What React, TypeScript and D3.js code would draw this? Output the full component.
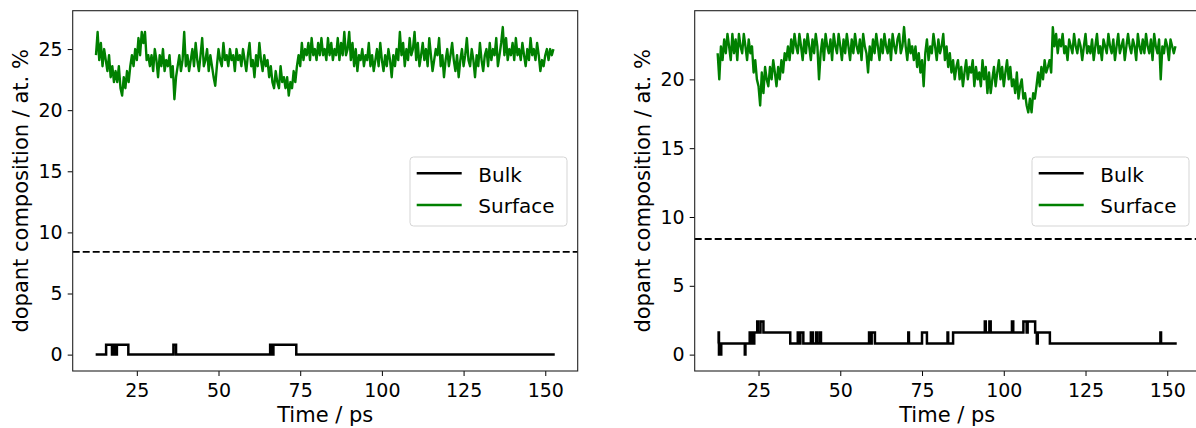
import React, { useEffect, useRef } from 'react';
import * as d3 from 'd3';

// Surface traces are sampled every 0.5 ps starting at 12.5 ps
const surfaceStart = 12.5;
const surfaceStep = 0.5;

// Left panel, surface dopant composition (at. %)
const leftSurface = [
  24.5, 26.4, 24.1, 25.5, 23.6, 25.0, 24.1, 23.2, 24.5, 22.7, 23.6, 22.3, 23.2, 22.3, 23.6, 21.8, 21.2, 22.7, 21.8, 23.2,
  22.3, 23.6, 24.5, 23.6, 25.0, 24.1, 25.9, 24.5, 26.4, 25.5, 26.4, 24.1, 24.5, 23.6, 24.5, 23.2, 25.0, 24.1, 22.7, 24.5,
  23.6, 25.0, 23.2, 24.1, 23.6, 24.5, 22.7, 23.6, 20.9, 22.7, 23.6, 24.5, 23.2, 24.1, 26.4, 23.6, 24.5, 23.2, 24.1, 25.0,
  23.6, 25.5, 24.1, 23.2, 24.5, 25.9, 23.6, 24.1, 25.0, 23.2, 24.5, 23.6, 22.7, 22.0, 23.6, 25.0, 24.1, 23.6, 25.5, 24.1,
  24.5, 23.6, 25.0, 24.1, 24.5, 23.2, 25.0, 24.1, 24.5, 23.6, 25.0, 24.1, 23.2, 24.5, 25.5, 23.6, 24.1, 22.7, 24.5, 23.6,
  25.5, 24.1, 23.2, 24.5, 23.6, 24.1, 22.7, 23.6, 22.3, 21.8, 23.2, 22.3, 21.8, 23.6, 22.3, 22.7, 21.8, 22.7, 21.2, 22.3,
  21.8, 23.2, 22.3, 23.6, 24.5, 23.6, 25.5, 24.1, 25.0, 24.5, 25.5, 24.1, 25.9, 24.5, 25.0, 24.1, 25.5, 24.5, 25.9, 24.5,
  25.0, 24.1, 25.9, 24.5, 25.5, 24.1, 25.0, 24.5, 25.9, 24.1, 25.5, 24.5, 26.4, 24.5, 25.0, 26.4, 24.1, 25.5, 23.6, 25.0,
  23.2, 24.5, 24.1, 25.0, 23.6, 24.5, 24.1, 25.5, 23.6, 24.5, 23.2, 24.1, 25.0, 23.6, 25.5, 24.1, 23.2, 24.5, 23.6, 25.0,
  24.1, 22.7, 24.5, 23.6, 25.0, 24.1, 26.4, 24.5, 25.5, 23.6, 25.0, 24.1, 25.9, 24.5, 25.0, 26.4, 24.1, 25.5, 23.6, 24.5,
  25.5, 24.1, 25.0, 23.6, 25.9, 24.5, 23.2, 24.1, 25.0, 24.5, 25.9, 23.6, 24.5, 22.7, 24.1, 25.0, 23.6, 24.5, 25.5, 24.1,
  23.2, 24.5, 22.7, 24.1, 25.0, 23.6, 24.5, 25.9, 24.1, 23.6, 25.0, 24.1, 22.7, 24.5, 23.6, 25.5, 24.1, 23.2, 24.5, 25.0,
  23.6, 25.5, 24.1, 25.0, 24.5, 25.9, 23.6, 24.5, 25.5, 26.8, 24.5, 25.9, 24.1, 25.0, 24.5, 25.5, 24.1, 25.9, 24.5, 25.0,
  24.1, 25.5, 24.5, 23.6, 25.0, 24.1, 25.9, 24.5, 25.0, 24.1, 25.5, 24.5, 23.2, 24.1, 23.6, 24.5, 25.0, 24.1, 25.0, 24.5, 25.0,
];

// Right panel, surface dopant composition (at. %)
const rightSurface = [
  21.9, 20.0, 22.4, 21.4, 22.9, 21.9, 23.3, 22.4, 21.4, 23.3, 21.9, 22.9, 21.4, 23.3, 22.4, 21.9, 23.3, 22.4, 21.4, 22.9,
  21.9, 22.4, 20.5, 21.4, 20.0, 19.5, 18.1, 20.5, 19.0, 20.9, 20.0, 19.5, 20.9, 20.0, 21.4, 20.5, 19.5, 20.9, 20.0, 21.4,
  20.5, 21.9, 21.4, 22.4, 21.4, 22.9, 21.9, 23.3, 22.4, 21.9, 23.3, 22.4, 21.4, 22.9, 21.9, 23.3, 22.4, 21.4, 22.9, 21.9,
  23.3, 22.4, 20.0, 21.9, 22.9, 21.4, 23.3, 22.4, 21.9, 22.9, 21.4, 23.3, 22.4, 21.9, 23.3, 22.4, 21.4, 22.9, 21.9, 23.3,
  22.4, 21.4, 22.9, 21.9, 23.3, 22.4, 21.9, 22.9, 21.4, 23.3, 22.4, 21.9, 20.5, 22.4, 21.4, 22.9, 21.9, 23.3, 22.4, 21.4,
  22.9, 21.9, 23.3, 22.4, 21.9, 22.9, 21.4, 23.3, 22.4, 21.9, 22.9, 23.3, 21.9, 22.4, 23.8, 22.4, 21.4, 22.9, 21.9, 22.4,
  21.4, 22.4, 20.9, 21.9, 20.5, 21.4, 19.5, 21.9, 22.9, 21.4, 22.4, 21.9, 23.3, 22.4, 21.4, 22.9, 21.9, 22.4, 23.3, 21.4,
  22.4, 20.9, 21.9, 20.5, 21.4, 20.0, 20.9, 21.4, 20.0, 20.9, 19.5, 20.5, 21.4, 20.0, 20.9, 20.5, 21.4, 19.5, 20.9, 20.0,
  20.5, 19.5, 21.4, 20.0, 20.9, 19.0, 20.5, 19.0, 20.0, 20.9, 19.5, 20.5, 21.4, 20.0, 20.9, 19.5, 20.5, 21.4, 20.0, 20.9,
  19.5, 20.0, 19.0, 20.5, 18.6, 19.5, 20.0, 18.6, 19.0, 18.1, 17.6, 18.6, 17.6, 19.0, 18.6, 19.5, 20.5, 19.5, 20.9, 20.0,
  21.4, 20.5, 20.9, 21.4, 20.5, 23.8, 22.4, 23.3, 21.9, 22.9, 22.4, 23.3, 21.9, 22.4, 21.4, 22.9, 22.4, 21.9, 23.3, 22.4,
  21.9, 22.9, 22.4, 21.4, 22.4, 23.3, 21.9, 22.4, 21.9, 22.9, 21.4, 22.4, 23.3, 21.9, 22.4, 21.4, 22.9, 22.4, 21.9, 23.3,
  22.4, 21.9, 22.9, 21.4, 22.4, 23.3, 21.9, 22.4, 22.9, 21.4, 22.4, 23.3, 22.4, 21.9, 22.9, 22.4, 21.4, 23.3, 22.4, 21.9,
  22.9, 21.9, 23.3, 22.4, 21.9, 22.9, 21.4, 23.3, 22.4, 21.9, 22.9, 20.0, 22.4, 21.9, 22.9, 22.4, 21.4, 22.9, 22.4, 21.9, 22.4,
];

// Bulk traces: time (ps) where the value changes, and the value held from there
const leftBulkTime = [12.4, 15.6, 17.4, 17.8, 18.5, 18.9, 22.4, 36.2, 37.0, 65.8, 66.3, 66.8, 73.8, 152.9];
const leftBulkValue = [0, 0.8, 0, 0.8, 0, 0.8, 0, 0.8, 0, 0.8, 0, 0.8, 0, 0];

const rightBulkTime = [
  12.5, 12.8, 12.9, 13.1, 13.3, 13.6, 20.8, 21.0, 22.3, 22.6, 22.9, 23.3, 23.7, 24.6, 24.8, 25.6, 26.5, 34.7,
  37.0, 37.3, 37.8, 38.7, 41.0, 41.6, 42.6, 42.9, 43.7, 44.1, 58.8, 59.2, 59.6, 60.6, 70.8, 71.0, 75.0, 76.5,
  82.8, 83.0, 84.5, 94.2, 94.5, 95.6, 96.0, 102.5, 102.9, 106.0, 107.0, 107.3, 109.6, 110.1, 110.4, 114.1,
  147.9, 148.1, 152.9,
];
const rightBulkValue = [
  0.8, 1.6, 0, 0.8, 0, 0.8, 0, 0.8, 1.6, 0.8, 1.6, 0.8, 1.6, 2.4, 1.6, 2.4, 1.6, 0.8,
  1.6, 0.8, 1.6, 0.8, 1.6, 0.8, 1.6, 0.8, 1.6, 0.8, 1.6, 0.8, 1.6, 0.8, 1.6, 0.8, 1.6, 0.8,
  1.6, 0.8, 1.6, 2.4, 1.6, 2.4, 1.6, 2.4, 1.6, 2.4, 1.6, 2.4, 1.6, 0.8, 1.6, 0.8,
  1.6, 0.8, 0.8,
];

const xTicks = [25, 50, 75, 100, 125, 150];
const leftYTicks = [0, 5, 10, 15, 20, 25];
const rightYTicks = [0, 5, 10, 15, 20];
const nominalLevel = 8.4;
const legendNames = ['Bulk', 'Surface'];
const legendColors = ['black', 'green'];

const FONT = '"DejaVu Sans", Verdana, sans-serif';

// matplotlib-style 5% padding around the data range
const padded = (lo, hi) => {
  const m = (hi - lo) * 0.05;
  return [lo - m, hi + m];
};

const drawPanel = (svg, opts) => {
  const { left, top, width, height, surface, bulkT, bulkV, yTicks } = opts;
  const g = svg.append('g').attr('transform', `translate(${left},${top})`);

  const surfPts = surface.map((v, i) => [surfaceStart + i * surfaceStep, v]);
  const bulkPts = bulkT.map((t, i) => [t, bulkV[i]]);

  const allT = surfPts.map(d => d[0]).concat(bulkT);
  const allV = surface.concat(bulkV);

  const x = d3.scaleLinear()
    .domain(padded(d3.min(allT), d3.max(allT)))
    .range([0, width]);
  const y = d3.scaleLinear()
    .domain(padded(d3.min(allV), d3.max(allV)))
    .range([height, 0]);

  // bulk (step trace)
  g.append('path')
    .datum(bulkPts)
    .attr('fill', 'none')
    .attr('stroke', 'black')
    .attr('stroke-width', 2.5)
    .attr('stroke-linejoin', 'miter')
    .attr('d', d3.line().x(d => x(d[0])).y(d => y(d[1])).curve(d3.curveStepAfter));

  // surface
  g.append('path')
    .datum(surfPts)
    .attr('fill', 'none')
    .attr('stroke', 'green')
    .attr('stroke-width', 2.4)
    .attr('stroke-linejoin', 'round')
    .attr('d', d3.line().x(d => x(d[0])).y(d => y(d[1])));

  // nominal composition
  g.append('line')
    .attr('x1', 0)
    .attr('x2', width)
    .attr('y1', y(nominalLevel))
    .attr('y2', y(nominalLevel))
    .attr('stroke', 'black')
    .attr('stroke-width', 1.8)
    .attr('stroke-dasharray', '7,3');

  // x axis
  const xa = g.append('g')
    .attr('transform', `translate(0,${height})`)
    .call(d3.axisBottom(x).tickValues(xTicks).tickSize(5).tickPadding(7.5));
  xa.select('.domain').remove();
  xa.selectAll('line').attr('stroke', 'black').attr('stroke-width', 1);
  xa.selectAll('text')
    .style('font-family', FONT)
    .style('font-size', '19px')
    .attr('fill', 'black');

  // y axis
  const ya = g.append('g')
    .call(d3.axisLeft(y).tickValues(yTicks).tickSize(5).tickPadding(5));
  ya.select('.domain').remove();
  ya.selectAll('line').attr('stroke', 'black').attr('stroke-width', 1);
  ya.selectAll('text')
    .style('font-family', FONT)
    .style('font-size', '19px')
    .attr('fill', 'black');

  // frame
  g.append('rect')
    .attr('x', 0)
    .attr('y', 0)
    .attr('width', width)
    .attr('height', height)
    .attr('fill', 'none')
    .attr('stroke', '#222')
    .attr('stroke-width', 1.1);

  // axis labels
  g.append('text')
    .attr('x', width / 2)
    .attr('y', height + 51)
    .attr('text-anchor', 'middle')
    .style('font-family', FONT)
    .style('font-size', '21px')
    .text('Time / ps');

  g.append('text')
    .attr('transform', `translate(-52,${height / 2}) rotate(-90)`)
    .attr('text-anchor', 'middle')
    .attr('dominant-baseline', 'central')
    .style('font-family', FONT)
    .style('font-size', '21px')
    .text('dopant composition / at. %');

  // legend
  const lg = g.append('g').attr('transform', `translate(${width - 10.7 - 157},${146.3})`);
  lg.append('rect')
    .attr('x', 0)
    .attr('y', 0)
    .attr('width', 157)
    .attr('height', 69)
    .attr('rx', 3.5)
    .attr('fill', 'white')
    .attr('fill-opacity', 0.8)
    .attr('stroke', '#d5d5d5')
    .attr('stroke-width', 1);

  legendNames.forEach((name, i) => {
    const cy = 16.3 + i * 31.7;
    lg.append('line')
      .attr('x1', 6.7)
      .attr('x2', 51.7)
      .attr('y1', cy)
      .attr('y2', cy)
      .attr('stroke', legendColors[i])
      .attr('stroke-width', 2.4);
    lg.append('text')
      .attr('x', 68.3)
      .attr('y', cy + 8.4)
      .style('font-family', FONT)
      .style('font-size', '20px')
      .text(name);
  });
};

const App = () => {
  const svgRef = useRef(null);

  useEffect(() => {
    const svg = d3.select(svgRef.current);
    svg.selectAll('*').remove();

    drawPanel(svg, {
      left: 72.7, top: 10.7, width: 505, height: 360.3,
      surface: leftSurface, bulkT: leftBulkTime, bulkV: leftBulkValue, yTicks: leftYTicks,
    });
    drawPanel(svg, {
      left: 694.7, top: 10.7, width: 505, height: 360.3,
      surface: rightSurface, bulkT: rightBulkTime, bulkV: rightBulkValue, yTicks: rightYTicks,
    });
  }, []);

  return (
    <svg
      ref={svgRef}
      width={1196}
      height={428}
      style={{ position: 'absolute', left: 0, top: 0, background: 'white' }}
    />
  );
};

export default App;
